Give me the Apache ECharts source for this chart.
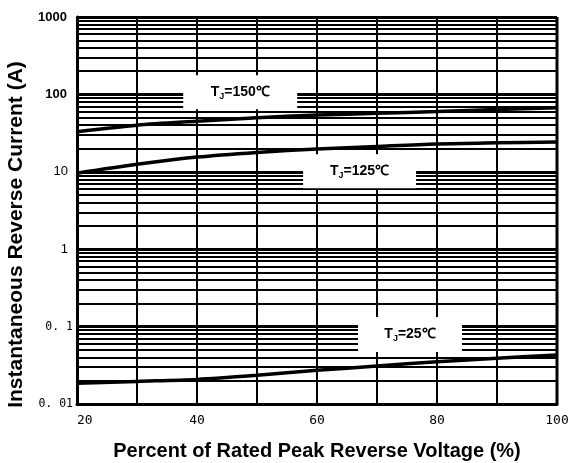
<!DOCTYPE html>
<html><head><meta charset="utf-8">
<script src="https://cdn.jsdelivr.net/npm/echarts@6/dist/echarts.min.js"></script>
<style>html,body{margin:0;padding:0;background:#fff}#c{width:569px;height:463px}</style>
</head><body><div id="c"></div>
<script>
var xVals = [20, 30, 40, 50, 60, 70, 80, 90, 100];
var tj150 = [33, 40, 45, 50, 54, 57, 60, 64, 67];
var tj125 = [9.6, 12.5, 15.5, 17.8, 19.7, 21.3, 22.9, 23.7, 24.3];
var tj25 = [0.0185, 0.0196, 0.0208, 0.0235, 0.0272, 0.031, 0.0352, 0.039, 0.043];
var yTickLabels = {'1000': '{b|1000}', '100': '{b|100}', '10': '{n|10}', '1': '{n|1}', '0.1': '{m|0. 1}', '0.01': '{m|0. 01}'};
var minorGrid = [];
[0.01, 0.1, 1, 10, 100].forEach(function (d) { for (var k = 2; k <= 9; k++) minorGrid.push(+(d * k).toPrecision(3)); });
var labelNames = ['150', '125', '25'];
var labelPos = [[47.2, 107], [67.1, 10.2], [75.5, 0.079]];
var labelBox = [[114, 34], [113, 34], [104, 35]];

function pair(ys) { return xVals.map(function (x, i) { return [x, ys[i]]; }); }
var chart = echarts.init(document.getElementById('c'));
var labelData = labelPos.map(function (p, i) {
  return {
    value: p,
    symbolSize: labelBox[i],
    label: {
      show: true, position: 'inside',
      formatter: '{a|T}{s|J}{a|=' + labelNames[i] + '℃}',
      rich: {
        a: {fontFamily: 'Liberation Sans, Arial', fontWeight: 'bold', fontSize: 14, color: '#000'},
        s: {fontFamily: 'Liberation Sans, Arial', fontWeight: 'bold', fontSize: 9, color: '#000', padding: [8, 0, 0, 0]}
      }
    }
  };
});
chart.setOption({
  animation: false,
  grid: {left: 77, right: 12, top: 17, bottom: 59, containLabel: false, outerBoundsMode: 'none'},
  xAxis: {
    type: 'value', min: 20, max: 100, interval: 10,
    axisLine: {show: true, lineStyle: {color: '#000', width: 3}},
    axisTick: {show: false},
    axisLabel: {
      color: '#000', fontFamily: 'DejaVu Sans Mono, Liberation Mono, monospace', fontSize: 13, margin: 10,
      alignMinLabel: 'left',
      formatter: function (v) { return v % 20 === 0 ? String(v) : ''; }
    },
    splitLine: {show: true, lineStyle: {color: '#000', width: 2}},
    name: 'Percent of Rated Peak Reverse Voltage (%)', nameLocation: 'middle', nameGap: 37,
    nameTextStyle: {color: '#000', fontFamily: 'Liberation Sans, Arial', fontWeight: 'bold', fontSize: 20}
  },
  yAxis: {
    type: 'log', logBase: 10, min: 0.01, max: 1000,
    axisLine: {show: true, lineStyle: {color: '#000', width: 3}},
    axisTick: {show: false},
    axisLabel: {
      color: '#000', margin: 4,
      formatter: function (v) { var k = String(+v.toPrecision(3)); return yTickLabels[k] || ''; },
      rich: {
        b: {fontFamily: 'Liberation Sans, Arial', fontWeight: 'bold', fontSize: 13, color: '#000', padding: [0, 6, 0, 0]},
        n: {fontFamily: 'Liberation Sans, Arial', fontSize: 13, color: '#000', padding: [0, 5, 0, 0]},
        m: {fontFamily: 'DejaVu Sans Mono, Liberation Mono, monospace', fontSize: 11.5, color: '#000'}
      }
    },
    splitLine: {show: true, lineStyle: {color: '#000', width: 3}},
    name: 'Instantaneous Reverse Current (A)', nameLocation: 'middle', nameGap: 43,
    nameTextStyle: {color: '#000', fontFamily: 'Liberation Sans, Arial', fontWeight: 'bold', fontSize: 21, padding: [0, 48, 0, 0]}
  },
  series: [
    {
      type: 'line', data: [], z: 1, silent: true,
      markLine: {
        silent: true, symbol: 'none', animation: false,
        label: {show: false},
        lineStyle: {color: '#000', width: 2, type: 'solid'},
        data: minorGrid.map(function (v) { return {yAxis: v}; })
      }
    },
    {
      type: 'line', data: [[100, 1000], [100, 0.01]], z: 2, silent: true, showSymbol: false,
      lineStyle: {color: '#000', width: 3}
    },
    {type: 'line', data: pair(tj150), smooth: 0.3, showSymbol: false, z: 3, lineStyle: {color: '#000', width: 3.5}},
    {type: 'line', data: pair(tj125), smooth: 0.3, showSymbol: false, z: 3, lineStyle: {color: '#000', width: 3.5}},
    {type: 'line', data: pair(tj25), smooth: 0.3, showSymbol: false, z: 3, lineStyle: {color: '#000', width: 3.5}},
    {type: 'scatter', data: labelData, symbol: 'rect', itemStyle: {color: '#fff', opacity: 1}, z: 10, silent: true}
  ]
});
</script></body></html>
